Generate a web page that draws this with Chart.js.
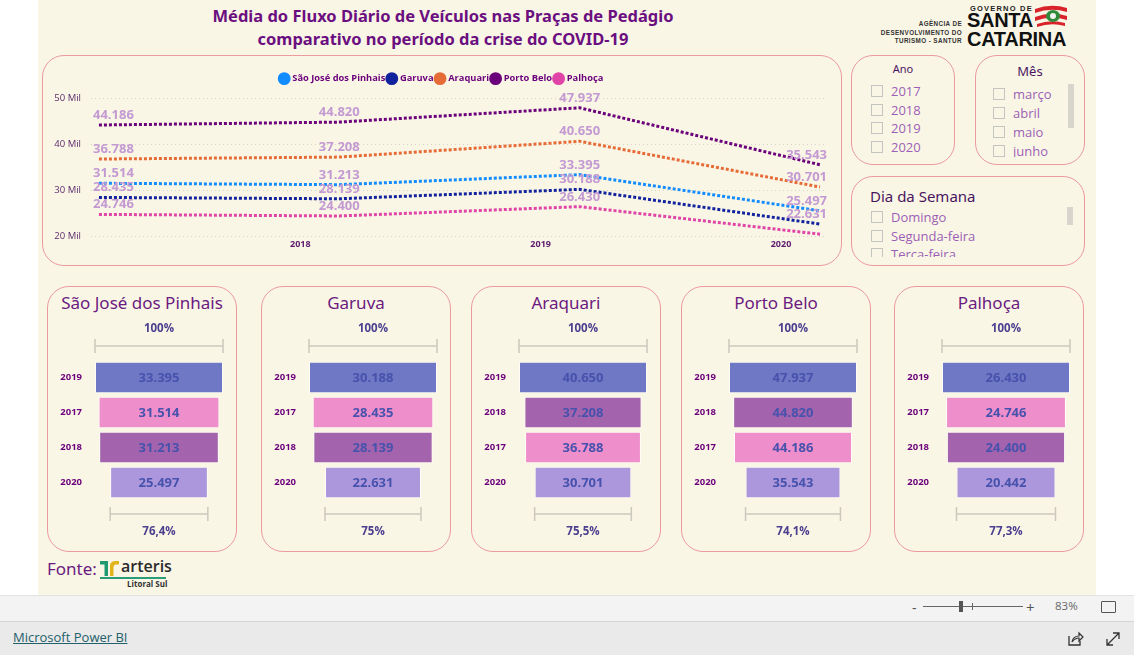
<!DOCTYPE html>
<html><head><meta charset="utf-8">
<script src="https://cdn.jsdelivr.net/npm/chart.js@4.4.1/dist/chart.umd.min.js"></script>
<style>
html,body{margin:0;padding:0;width:1134px;height:655px;overflow:hidden;background:#fff;font-family:"Open Sans",sans-serif;}
.abs{position:absolute;}
#panel{position:absolute;left:38px;top:0;width:1058px;height:595px;background:#faf6e6;}
.card{position:absolute;border:1.5px solid #eb9aa0;border-radius:22px;background:#faf6e6;box-sizing:border-box;}
#title{position:absolute;left:143px;top:4px;width:600px;text-align:center;font-family:"Noto Sans",sans-serif;font-weight:bold;font-size:16.5px;line-height:23px;color:#6b0f80;}
.ctitle{position:absolute;top:291px;width:190px;text-align:center;font-family:"Noto Sans",sans-serif;font-size:17px;line-height:24px;color:#6b1a80;}
.hdr{position:absolute;font-family:"Noto Sans",sans-serif;color:#4a1560;}
.item{position:absolute;font-family:"Open Sans",sans-serif;font-size:13px;color:#9c5fb5;line-height:18px;white-space:nowrap;}
.item i{position:absolute;left:-20px;top:3px;width:12px;height:12px;border:1px solid #c4c4c0;box-sizing:border-box;}
.scroll{position:absolute;width:6px;background:#d8d5cd;}
.clip{position:absolute;overflow:hidden;}
</style></head>
<body>
<div id="panel"></div>
<div id="title">Média do Fluxo Diário de Veículos nas Praças de Pedágio<br>comparativo no período da crise do COVID-19</div>

<!-- logo -->
<div class="abs" style="left:860px;top:20px;width:102px;text-align:right;font-family:'Liberation Sans',sans-serif;font-weight:bold;font-size:6.3px;line-height:8.5px;letter-spacing:0.4px;color:#333;">AGÊNCIA DE<br>DESENVOLVIMENTO DO<br>TURISMO - SANTUR</div>
<div class="abs" style="left:970px;top:4px;font-family:'Liberation Sans',sans-serif;font-weight:bold;font-size:7.5px;letter-spacing:1.2px;color:#222;">GOVERNO DE</div>
<div class="abs" style="left:967px;top:11px;font-family:'Liberation Sans',sans-serif;font-weight:bold;font-size:20px;line-height:18.5px;letter-spacing:-0.3px;color:#111;">SANTA<br>CATARINA</div>
<svg class="abs" style="left:1033px;top:4px" width="36" height="24" viewBox="0 0 36 24">
<path d="M2 5 Q18 -1 34 4 L34 8 Q18 3 2 9Z" fill="#d8232a"/>
<path d="M2 13 Q18 7 34 12 L34 16 Q18 11 2 17Z" fill="#d8232a"/>
<path d="M4 20 Q18 15 32 19 L32 22 Q18 18 4 23Z" fill="#d8232a"/>
<ellipse cx="20" cy="12" rx="7" ry="6" fill="#2e8b3a"/>
<circle cx="20" cy="12" r="3" fill="#f2f2f2"/>
</svg>

<!-- line chart card -->
<div class="card" style="left:42px;top:55px;width:800px;height:211px;"></div>
<canvas id="line" class="abs" style="left:42px;top:55px" width="800" height="211"></canvas>

<!-- slicers -->
<div class="card" style="left:851px;top:55px;width:104px;height:110px;"></div>
<div class="hdr" style="left:851px;top:61px;width:104px;text-align:center;font-size:11px;line-height:16px;">Ano</div>
<div class="item" style="left:891px;top:82px;"><i></i>2017</div>
<div class="item" style="left:891px;top:101px;"><i></i>2018</div>
<div class="item" style="left:891px;top:119px;"><i></i>2019</div>
<div class="item" style="left:891px;top:138px;"><i></i>2020</div>

<div class="card" style="left:975px;top:55px;width:110px;height:110px;"></div>
<div class="hdr" style="left:975px;top:62px;width:110px;text-align:center;font-size:13px;line-height:18px;">Mês</div>
<div class="clip" style="left:970px;top:80px;width:100px;height:77px;">
<div class="item" style="left:43px;top:5px;"><i></i>março</div>
<div class="item" style="left:43px;top:24px;"><i></i>abril</div>
<div class="item" style="left:43px;top:43px;"><i></i>maio</div>
<div class="item" style="left:43px;top:62px;"><i></i>junho</div>
</div>
<div class="scroll" style="left:1068px;top:84px;height:44px;"></div>

<div class="card" style="left:851px;top:176px;width:234px;height:90px;"></div>
<div class="hdr" style="left:870px;top:185px;font-size:15px;line-height:22px;">Dia da Semana</div>
<div class="clip" style="left:860px;top:205px;width:200px;height:52px;">
<div class="item" style="left:31px;top:3px;"><i></i>Domingo</div>
<div class="item" style="left:31px;top:22px;"><i></i>Segunda-feira</div>
<div class="item" style="left:31px;top:40px;"><i></i>Terça-feira</div>
</div>
<div class="scroll" style="left:1067px;top:207px;height:18px;"></div>

<div id="funnels"></div>

<!-- Fonte -->
<div class="abs" style="left:47px;top:556px;font-family:'Noto Sans',sans-serif;font-size:17px;line-height:26px;color:#6b1a80;">Fonte:</div>
<svg class="abs" style="left:100px;top:560px" width="20" height="17" viewBox="0 0 20 17">
<path d="M0 1 H8 V16 H4.5 V4.5 H0Z" fill="#1e9a72"/>
<path d="M10 16 V6 Q10 1 16 1 H19 V4.5 H16 Q13.5 4.5 13.5 7.5 V16Z" fill="#e2b31b"/>
</svg>
<div class="abs" style="left:121px;top:555px;font-family:'Open Sans',sans-serif;font-weight:600;font-size:16px;line-height:22px;color:#2b2b2b;">arteris</div>
<div class="abs" style="left:100px;top:577px;width:66px;height:1.5px;background:#2a9d78;"></div>
<div class="abs" style="left:127px;top:578px;font-family:'Open Sans',sans-serif;font-weight:bold;font-size:8px;line-height:12px;color:#333;">Litoral Sul</div>

<!-- bottom bars -->
<div class="abs" style="left:0;top:595px;width:1134px;height:25px;background:#f3f3f3;border-top:1px solid #e2e2e2;border-bottom:1px solid #d4d4d4;"></div>
<div class="abs" style="left:0;top:622px;width:1134px;height:33px;background:#eaeaea;"></div>
<div class="abs" style="left:912px;top:598px;font-size:14px;color:#555;">-</div>
<div class="abs" style="left:923px;top:606px;width:100px;height:1px;background:#666;"></div>
<div class="abs" style="left:959px;top:601px;width:4px;height:11px;background:#555;"></div>
<div class="abs" style="left:972px;top:603px;width:1px;height:7px;background:#666;"></div>
<div class="abs" style="left:1026px;top:597px;font-size:15px;color:#555;">+</div>
<div class="abs" style="left:1055px;top:598px;font-size:11.5px;color:#666;">83%</div>
<div class="abs" style="left:1101px;top:601px;width:13px;height:10px;border:1px solid #555;border-radius:1px;"></div>
<div class="abs" style="left:13px;top:628px;font-family:'Open Sans',sans-serif;font-size:13px;color:#22606b;text-decoration:underline;">Microsoft Power BI</div>
<svg class="abs" style="left:1068px;top:631px" width="16" height="15" viewBox="0 0 16 15"><path d="M1 5 V14 H12 V10" stroke="#333" fill="none" stroke-width="1.3"/><path d="M4 11 Q5 5 11 5 V2 L15 6 L11 10 V7 Q7 7 4 11Z" stroke="#333" fill="none" stroke-width="1.2"/></svg>
<svg class="abs" style="left:1105px;top:631px" width="16" height="16" viewBox="0 0 16 16"><path d="M2 14 L14 2 M8 2 H14 V8 M2 8 V14 H8" stroke="#333" fill="none" stroke-width="1.3"/></svg>

<script>
// ---------- DATA ----------
const years = [2017, 2018, 2019, 2020];
const cities = ['São José dos Pinhais', 'Garuva', 'Araquari', 'Porto Belo', 'Palhoça'];
const saoJose = [31514, 31213, 33395, 25497];
const garuva = [28435, 28139, 30188, 22631];
const araquari = [36788, 37208, 40650, 30701];
const portoBelo = [44186, 44820, 47937, 35543];
const palhoca = [24746, 24400, 26430, 20442];
const yTicks = [20000, 30000, 40000, 50000];
const lastPct = [76.4, 75, 75.5, 74.1, 77.3];   // % shown under each funnel
const series = [saoJose, garuva, araquari, portoBelo, palhoca];

// ---------- STYLES ----------
const lineColors = ['#118DFF', '#12239E', '#E66C37', '#6B007B', '#E044A7'];
const barColors = {2017: '#ee8ecb', 2018: '#a464ad', 2019: '#6e78c4', 2020: '#ad97dc'};
const cardLefts = [47, 261, 471, 681, 894];

const fmt = v => String(Math.round(v)).replace(/\B(?=(\d{3})+(?!\d))/g, '.');
Chart.defaults.font.family = '"Open Sans", sans-serif';

const lineLabels = {
  id: 'lineLabels',
  beforeLayout(chart) {
    const lg = chart.legend;
    if (lg && !lg._extra) {
      const f = lg.fit.bind(lg);
      lg.fit = function () { f(); this.height += 5; this.minSize && (this.minSize.height = this.height); };
      lg._extra = true;
    }
  },
  afterLayout(chart) {
    // centre the legend over the whole card (right padding would shift it left)
    if (chart.legend) chart.legend.left += 16;
  },
  afterDatasetsDraw(chart) {
    const ctx = chart.ctx, area = chart.chartArea;
    ctx.save();
    ctx.font = 'bold 13px "Open Sans"';
    ctx.fillStyle = '#c39ad2';
    ctx.textBaseline = 'alphabetic';
    ctx.textAlign = 'left';
    const n = chart.data.datasets[0].data.length;
    for (let i = 0; i < n; i++) {
      const pts = chart.data.datasets.map((ds, d) => {
        const el = chart.getDatasetMeta(d).data[i];
        return {x: el.x, y: el.y, v: ds.data[i].y};
      }).sort((a, b) => a.y - b.y);
      let lastY = -1e9;
      pts.forEach(p => {
        if (p.y - lastY < 12) return;
        lastY = p.y;
        const t = fmt(p.v), w = ctx.measureText(t).width;
        let x = p.x - w / 2;
        x = Math.max(area.left + 2, Math.min(area.right + 1 - w, x));
        ctx.fillText(t, x, p.y - 6);
      });
    }
    ctx.restore();
  }
};

new Chart(document.getElementById('line'), {
  type: 'line',
  data: {
    datasets: cities.map((c, k) => ({
      label: c,
      data: series[k].map((v, i) => ({x: i, y: v})),
      borderColor: lineColors[k], backgroundColor: lineColors[k],
      borderWidth: 3, borderDash: [3, 2], borderCapStyle: 'butt',
      pointRadius: 0, tension: 0, fill: false
    }))
  },
  options: {
    responsive: false, animation: false, devicePixelRatio: 1,
    layout: {padding: {top: 16, right: 16, bottom: 13, left: 0}},
    scales: {
      x: {
        type: 'linear', min: -0.033, max: 3.025,
        grid: {display: false, drawTicks: false}, border: {display: false},
        afterBuildTicks: s => { s.ticks = years.slice(1).map((y, i) => ({value: i + 1})); },
        ticks: {callback: v => years[v], labelOffset: -39, color: '#5b1a6e',
                font: {weight: 'bold', size: 9}, padding: 3, maxRotation: 0, autoSkip: false}
      },
      y: {
        min: 20000, max: 50000,
        afterBuildTicks: s => { s.ticks = yTicks.map(v => ({value: v})); },
        afterFit: s => { s.width = 49; },
        grid: {color: '#d6d2c6', drawTicks: false, lineWidth: 1},
        border: {display: false, dash: [1, 3]},
        ticks: {callback: v => (v / 1000) + ' Mil', color: '#5b2a6b', font: {size: 9.5}, padding: 10}
      }
    },
    plugins: {
      legend: {position: 'top', align: 'center',
        labels: {usePointStyle: true, pointStyle: 'circle', boxWidth: 7, boxHeight: 7, padding: 3,
                 color: '#6b007b', font: {weight: 'bold', size: 9.3}}},
      tooltip: {enabled: false}
    }
  },
  plugins: [lineLabels]
});

// ---------- FUNNELS ----------
const funnelDeco = {
  id: 'funnelDeco',
  afterDatasetsDraw(chart) {
    const ctx = chart.ctx, meta = chart.getDatasetMeta(0), ds = chart.data.datasets[0];
    ctx.save();
    ctx.textAlign = 'center'; ctx.textBaseline = 'middle';
    ctx.font = 'bold 13px "Open Sans"'; ctx.fillStyle = '#4752ad';
    meta.data.forEach((b, i) => {
      const v = ds.data[i][1] - ds.data[i][0];
      ctx.fillText(fmt(v), (b.x + b.base) / 2, b.y + 1);
    });
    const first = meta.data[0], last = meta.data[meta.data.length - 1];
    const bracket = (b, y) => {
      const l = Math.min(b.x, b.base), r = Math.max(b.x, b.base);
      ctx.strokeStyle = '#cdc8bd'; ctx.lineWidth = 1.5;
      ctx.beginPath();
      ctx.moveTo(l, y); ctx.lineTo(r, y);
      ctx.moveTo(l, y - 7); ctx.lineTo(l, y + 7);
      ctx.moveTo(r, y - 7); ctx.lineTo(r, y + 7);
      ctx.stroke();
    };
    bracket(first, first.y - 31.5);
    bracket(last, last.y + 31.5);
    ctx.font = 'bold 11.5px "Open Sans"'; ctx.fillStyle = '#4b3f8f';
    ctx.fillText('100%', (first.x + first.base) / 2, first.y - 48.5);
    ctx.fillText(chart.options.plugins.funnelDeco.pct, (last.x + last.base) / 2, last.y + 49.5);
    ctx.restore();
  }
};

const fDiv = document.getElementById('funnels');
cities.forEach((c, k) => {
  const left = cardLefts[k];
  const card = document.createElement('div');
  card.className = 'card';
  card.style.cssText = `left:${left}px;top:286px;width:190px;height:266px;`;
  fDiv.appendChild(card);
  const t = document.createElement('div');
  t.className = 'ctitle'; t.style.left = left + 'px'; t.textContent = c;
  fDiv.appendChild(t);
  const cv = document.createElement('canvas');
  cv.width = 190; cv.height = 266; cv.className = 'abs';
  cv.style.cssText = `left:${left}px;top:286px;`;
  fDiv.appendChild(cv);

  const rows = years.map((y, i) => ({year: y, v: series[k][i]})).sort((a, b) => b.v - a.v);
  const max = rows[0].v;
  new Chart(cv, {
    type: 'bar',
    data: {
      labels: rows.map(r => String(r.year)),
      datasets: [{
        data: rows.map(r => [-r.v / 2, r.v / 2]),
        backgroundColor: rows.map(r => barColors[r.year]),
        borderColor: 'rgba(255,255,255,0.65)', borderWidth: 1, borderSkipped: false,
        categoryPercentage: 1, barPercentage: 0.9
      }]
    },
    options: {
      indexAxis: 'y', responsive: false, animation: false, devicePixelRatio: 1,
      layout: {padding: {top: 74, bottom: 52, left: 0, right: 14}},
      scales: {
        x: {display: false, min: -max / 2, max: max / 2},
        y: {grid: {display: false, drawTicks: false}, border: {display: false},
            afterFit: s => { s.width = 48; },
            ticks: {color: '#6b007b', font: {weight: 'bold', size: 9.5}, padding: 13}}
      },
      plugins: {legend: {display: false}, tooltip: {enabled: false},
                funnelDeco: {pct: String(lastPct[k]).replace('.', ',') + '%'}}
    },
    plugins: [funnelDeco]
  });
});
</script>
</body></html>
